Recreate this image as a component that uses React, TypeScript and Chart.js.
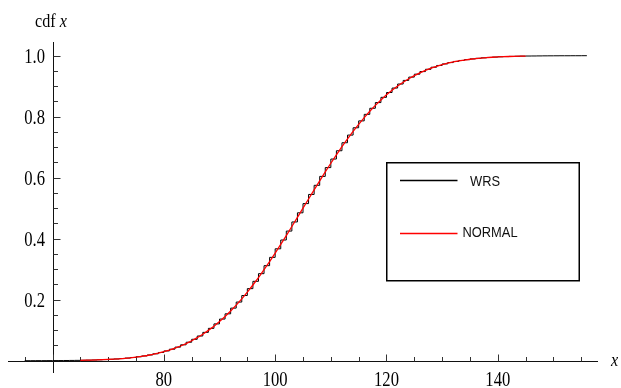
import React, { useEffect, useRef } from "react";
import { Chart, registerables } from "chart.js";

Chart.register(...registerables);

// Wilcoxon rank-sum statistic W (values 55..155), cumulative probability P(W <= k)
const WRS_FIRST = 55;
const WRS_CDF = [
  0.0, 0.0001, 0.0002, 0.0002, 0.0003, 0.0004, 0.0005, 0.0007, 0.0009, 0.0011,
  0.0014, 0.0018, 0.0023, 0.0029, 0.0036, 0.0046, 0.0057, 0.007, 0.0086, 0.0106,
  0.0129, 0.0156, 0.0188, 0.0226, 0.027, 0.032, 0.0378, 0.0445, 0.0521, 0.0606,
  0.0702, 0.081, 0.0929, 0.1061, 0.1207, 0.1365, 0.1537, 0.1724, 0.1923, 0.2137,
  0.2363, 0.2603, 0.2854, 0.3116, 0.3388, 0.3669, 0.3957, 0.425, 0.4549, 0.4849,
  0.5151, 0.5451, 0.575, 0.6043, 0.6331, 0.6612, 0.6884, 0.7146, 0.7397, 0.7637,
  0.7863, 0.8077, 0.8276, 0.8463, 0.8635, 0.8793, 0.8939, 0.9071, 0.919, 0.9298,
  0.9394, 0.9479, 0.9555, 0.9622, 0.968, 0.973, 0.9774, 0.9812, 0.9844, 0.9871,
  0.9894, 0.9914, 0.993, 0.9943, 0.9954, 0.9964, 0.9971, 0.9977, 0.9982, 0.9986,
  0.9989, 0.9991, 0.9993, 0.9995, 0.9996, 0.9997, 0.9998, 0.9998, 0.9999, 0.9999,
  1.0,
];
const WRS_END_X = 156;

// Normal approximation curve, x = 65..145
const NORMAL_FIRST = 65;
const NORMAL_CDF = [
  0.0012, 0.0016, 0.002, 0.0026, 0.0033, 0.0041, 0.0051, 0.0063, 0.0078, 0.0096,
  0.0117, 0.0142, 0.0171, 0.0206, 0.0247, 0.0294, 0.0348, 0.041, 0.0482, 0.0562,
  0.0653, 0.0755, 0.0868, 0.0994, 0.1132, 0.1284, 0.145, 0.1629, 0.1822, 0.2028,
  0.2249, 0.2482, 0.2727, 0.2983, 0.3251, 0.3527, 0.3812, 0.4103, 0.4399, 0.4699,
  0.5, 0.5301, 0.5601, 0.5897, 0.6188, 0.6473, 0.6749, 0.7017, 0.7273, 0.7518,
  0.7751, 0.7972, 0.8178, 0.8371, 0.855, 0.8716, 0.8868, 0.9006, 0.9132, 0.9245,
  0.9347, 0.9438, 0.9518, 0.959, 0.9652, 0.9706, 0.9753, 0.9794, 0.9829, 0.9858,
  0.9883, 0.9904, 0.9922, 0.9937, 0.9949, 0.9959, 0.9967, 0.9974, 0.998, 0.9984,
  0.9988,
];

const SERIES_LABELS = ["WRS", "NORMAL"];
const X_TICK_LABELS = [80, 100, 120, 140];
const Y_TICK_LABELS = ["0.2", "0.4", "0.6", "0.8", "1.0"];
const X_AXIS_TITLE = "x";
const Y_AXIS_TITLE = ["cdf ", "x"];

const X_MIN = 52;
const X_MAX = 158;
const Y_MIN = -0.0403;
const Y_MAX = 1.0449;
const AXIS_CROSS_X = 60;

const SERIF = "'Liberation Serif', 'Times New Roman', serif";

function drawScaledText(ctx: CanvasRenderingContext2D, text: string, x: number, y: number, align: CanvasTextAlign, sx: number) {
  ctx.save();
  ctx.translate(x, y);
  ctx.scale(sx, 1);
  ctx.textAlign = align;
  ctx.fillText(text, 0, 0);
  ctx.restore();
}

const axesPlugin = {
  id: "mmaAxes",
  beforeDatasetsDraw(chart: any) {
    const { ctx, chartArea } = chart;
    const xs = chart.scales.x;
    const ys = chart.scales.y;
    const ox = Math.round(xs.getPixelForValue(AXIS_CROSS_X)) + 0.5;
    const oy = Math.round(ys.getPixelForValue(0)) + 0.5;
    ctx.save();
    ctx.strokeStyle = "#111";
    ctx.lineWidth = 1;
    ctx.beginPath();
    ctx.moveTo(chartArea.left, oy);
    ctx.lineTo(chartArea.right, oy);
    ctx.moveTo(ox, chartArea.top);
    ctx.lineTo(ox, chartArea.bottom);
    ctx.stroke();

    ctx.strokeStyle = "#333";
    ctx.beginPath();
    for (let v = 55; v <= 155; v += 5) {
      const px = Math.round(xs.getPixelForValue(v)) + 0.5;
      const len = v % 20 === 0 ? 7 : 4.5;
      ctx.moveTo(px, oy);
      ctx.lineTo(px, oy - len);
    }
    for (let i = 1; i <= 20; i++) {
      const py = Math.round(ys.getPixelForValue(i * 0.05)) + 0.5;
      const len = i % 4 === 0 ? 7 : 4.5;
      ctx.moveTo(ox, py);
      ctx.lineTo(ox + len, py);
    }
    ctx.stroke();

    ctx.fillStyle = "#000";
    ctx.font = `21px ${SERIF}`;
    ctx.textBaseline = "alphabetic";
    X_TICK_LABELS.forEach((v) => {
      drawScaledText(ctx, String(v), xs.getPixelForValue(v), oy + 24, "center", 0.79);
    });
    Y_TICK_LABELS.forEach((t) => {
      drawScaledText(ctx, t, ox - 8.5, ys.getPixelForValue(parseFloat(t)) + 7.5, "right", 0.79);
    });

    // axis titles
    ctx.font = `19px ${SERIF}`;
    drawScaledText(ctx, Y_AXIS_TITLE[0], 35, 27, "left", 0.85);
    const w = ctx.measureText(Y_AXIS_TITLE[0]).width * 0.85;
    ctx.font = `italic 19px ${SERIF}`;
    drawScaledText(ctx, Y_AXIS_TITLE[1], 35 + w, 27, "left", 0.85);
    drawScaledText(ctx, X_AXIS_TITLE, 611, oy + 4, "left", 0.85);
    ctx.restore();
  },
};

const legendPlugin = {
  id: "boxLegend",
  afterDraw(chart: any) {
    const { ctx } = chart;
    const ds = chart.data.datasets;
    ctx.save();
    ctx.strokeStyle = "#000";
    ctx.lineWidth = 1.5;
    ctx.strokeRect(386.75, 162.75, 192.5, 118);
    const rows = [
      { y: 180.5, textX: 470, textY: 182 },
      { y: 233.5, textX: 462.5, textY: 233 },
    ];
    ctx.font = "14px 'Liberation Sans', Arial, sans-serif";
    ctx.textBaseline = "middle";
    rows.forEach((r, i) => {
      ctx.strokeStyle = ds[i].borderColor;
      ctx.lineWidth = 1.5;
      ctx.beginPath();
      ctx.moveTo(400, r.y);
      ctx.lineTo(457.5, r.y);
      ctx.stroke();
      ctx.fillStyle = "#111";
      drawScaledText(ctx, ds[i].label, r.textX, r.textY, "left", 0.92);
    });
    ctx.restore();
  },
};

export default function App() {
  const canvasRef = useRef<HTMLCanvasElement | null>(null);

  useEffect(() => {
    if (!canvasRef.current) return;
    const wrsPoints = WRS_CDF.map((y, i) => ({ x: WRS_FIRST + i, y }));
    wrsPoints.push({ x: WRS_END_X, y: WRS_CDF[WRS_CDF.length - 1] });
    const normalPoints = NORMAL_CDF.map((y, i) => ({ x: NORMAL_FIRST + i, y }));

    const chart = new Chart(canvasRef.current, {
      type: "line",
      data: {
        datasets: [
          {
            label: SERIES_LABELS[0],
            data: wrsPoints,
            borderColor: "#000000",
            borderWidth: 1,
            stepped: "before",
            pointRadius: 0,
            fill: false,
            order: 2,
          },
          {
            label: SERIES_LABELS[1],
            data: normalPoints,
            borderColor: "#ff0000",
            borderWidth: 1.3,
            pointRadius: 0,
            tension: 0,
            fill: false,
            order: 1,
          },
        ],
      },
      options: {
        responsive: false,
        animation: false,
        events: [],
        layout: { padding: { left: 8, right: 23, top: 42, bottom: 15 } },
        scales: {
          x: { type: "linear", min: X_MIN, max: X_MAX, display: false },
          y: { type: "linear", min: Y_MIN, max: Y_MAX, display: false },
        },
        plugins: {
          legend: { display: false },
          tooltip: { enabled: false },
          title: { display: false },
        },
      },
      plugins: [axesPlugin, legendPlugin],
    });
    return () => chart.destroy();
  }, []);

  return (
    <div style={{ position: "fixed", left: 0, top: 0, width: 621, height: 388, background: "#fff" }}>
      <canvas ref={canvasRef} width={621} height={388} style={{ display: "block" }} />
    </div>
  );
}
